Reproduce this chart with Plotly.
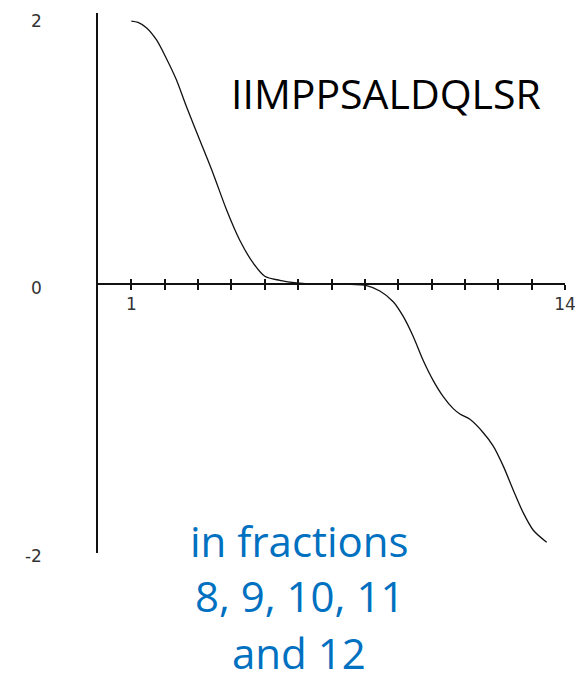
import plotly.graph_objects as go

# Curve values
x_vals = [1.0, 1.2, 1.45, 1.75, 2.05, 2.35, 2.65, 3.05, 3.45, 3.85, 4.25, 4.65, 5.0, 5.45, 5.95,
          6.5, 7.0, 7.5, 8.05, 8.45, 8.85, 9.15, 9.45, 9.75, 10.05, 10.35, 10.65, 10.85, 11.15,
          11.55, 11.85, 12.15, 12.45, 12.75, 13.05, 13.45]
y_vals = [1.97, 1.96, 1.92, 1.83, 1.69, 1.53, 1.33, 1.08, 0.83, 0.56, 0.33, 0.16, 0.06, 0.03, 0.01,
          0.0, 0.0, 0.0, -0.01, -0.05, -0.13, -0.24, -0.39, -0.57, -0.72, -0.84, -0.93, -0.97, -1.01,
          -1.11, -1.21, -1.36, -1.54, -1.71, -1.84, -1.93]

x_ticks = list(range(1, 15))
x_ticktext = ["1"] + [""] * 12 + ["14"]
y_ticks = [-2, 0, 2]
y_ticktext = ["-2", "0", "2"]

title_text = "IIMPPSALDQLSR"
note_lines = ["in fractions", "8, 9, 10, 11", "and 12"]

W, H = 575, 675
L, R, T, B = 98, 10, 13, 122
pw, ph = W - L - R, H - T - B
y_range = [-2.01, 2.03]
zero_pos = (0 - y_range[0]) / (y_range[1] - y_range[0])

def px_x(px):
    return (px - L) / pw

def px_y(py):
    return (H - B - py) / ph

fig = go.Figure()
fig.add_trace(go.Scatter(x=x_vals, y=y_vals, mode="lines",
                         line=dict(color="#111111", width=1.3, shape="spline", smoothing=0.8),
                         hoverinfo="skip", showlegend=False))
fig.add_trace(go.Scatter(x=[], y=[], xaxis="x2", showlegend=False))

tick_font = dict(family="DejaVu Sans", size=17, color="#333333")

fig.update_layout(
    width=W, height=H,
    margin=dict(l=L, r=R, t=T, b=B, autoexpand=False),
    paper_bgcolor="white", plot_bgcolor="white",
    xaxis=dict(range=[0, 14], tickvals=x_ticks, ticktext=x_ticktext,
               ticks="outside", ticklen=5, tickwidth=1.5, tickcolor="#111111",
               showline=True, linecolor="#111111", linewidth=1.5,
               showgrid=False, zeroline=False, automargin=False,
               ticklabeloverflow="allow",
               anchor="free", position=zero_pos, tickfont=tick_font),
    xaxis2=dict(range=[0, 14], overlaying="x", matches="x", tickvals=x_ticks,
                ticks="inside", ticklen=5, tickwidth=1.5, tickcolor="#111111",
                showticklabels=False, showline=False, showgrid=False, zeroline=False,
                automargin=False, anchor="free", position=zero_pos, side="bottom"),
    yaxis=dict(range=y_range, tickvals=y_ticks, ticktext=y_ticktext,
               ticks="", showline=True, linecolor="#111111", linewidth=1.5,
               showgrid=False, zeroline=False, tickfont=tick_font, automargin=False,
               ticklabeloverflow="allow",
               ticklabelstandoff=51, ticklabelshift=4),
)

fig.add_annotation(x=px_x(386), y=px_y(93), xref="paper", yref="paper",
                   text=title_text, showarrow=False, xanchor="center", yanchor="middle",
                   font=dict(family="Open Sans", size=41, color="#000000"))

for line, cy in zip(note_lines, [540, 595, 652]):
    fig.add_annotation(x=px_x(299), y=px_y(cy), xref="paper", yref="paper",
                       text=line, showarrow=False, xanchor="center", yanchor="middle",
                       borderpad=0,
                       font=dict(family="Open Sans", size=42, color="#0070C0"))

fig.write_html("out.html", config={"displayModeBar": False},
               post_script="document.body.style.margin='0';document.body.style.overflow='hidden';")
